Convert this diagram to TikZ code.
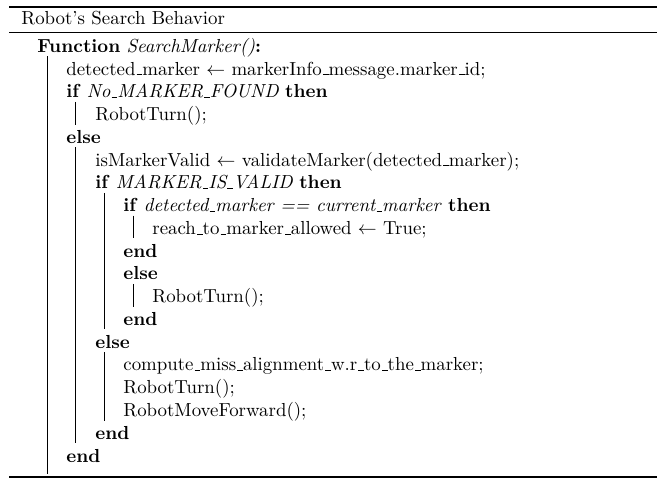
\documentclass[tikz,border=0pt]{standalone}
\usetikzlibrary{positioning}
\newcommand\usc{\leavevmode\kern.06em\vbox{\hrule width.3em}}
\begin{document}
\begin{tikzpicture}[x=0.53pt,y=-0.53pt]
\tikzstyle{codeline}=[anchor=base west,inner sep=0pt]
\tikzstyle{rule}=[line width=0.8pt]
\tikzstyle{bar}=[line width=0.5pt]
\useasboundingbox (0,0) rectangle (666,483);
\draw [rule] (9,7) -- (657,7);
\draw [rule] (9,32.5) -- (657,32.5);
\draw [rule] (9,477) -- (657,477);
\node [codeline] at (21,25) (cap) {Robot's Search Behavior};
\node [codeline] at (37,52.5) (l0) {\textbf{Function} \textit{SearchMarker()}\textbf{:}};
\node [codeline] at (66,75.25) (l1) {detected\usc marker $\leftarrow$ markerInfo\usc message.marker\usc id;};
\node [codeline] at (66,98) (l2) {\textbf{if} \textit{No\usc MARKER\usc FOUND} \textbf{then}};
\node [codeline] at (95,120.75) (l3) {RobotTurn();};
\node [codeline] at (66,143.5) (l4) {\textbf{else}};
\node [codeline] at (95,166.25) (l5) {isMarkerValid $\leftarrow$ validateMarker(detected\usc marker);};
\node [codeline] at (95,189) (l6) {\textbf{if} \textit{MARKER\usc IS\usc VALID} \textbf{then}};
\node [codeline] at (123,211.75) (l7) {\textbf{if} \textit{detected\usc marker == current\usc marker} \textbf{then}};
\node [codeline] at (152,234.5) (l8) {reach\usc to\usc marker\usc allowed $\leftarrow$ True;};
\node [codeline] at (123,257.25) (l9) {\textbf{end}};
\node [codeline] at (123,280) (l10) {\textbf{else}};
\node [codeline] at (152,302.75) (l11) {RobotTurn();};
\node [codeline] at (123,325.5) (l12) {\textbf{end}};
\node [codeline] at (95,348.25) (l13) {\textbf{else}};
\node [codeline] at (123,371) (l14) {compute\usc miss\usc alignment\usc w.r\usc to\usc the\usc marker;};
\node [codeline] at (123,393.75) (l15) {RobotTurn();};
\node [codeline] at (123,416.5) (l16) {RobotMoveForward();};
\node [codeline] at (95,439.25) (l17) {\textbf{end}};
\node [codeline] at (66,462) (l18) {\textbf{end}};
% block bars
\draw [bar] (47,56.5) -- (47,474);
\draw [bar] (75.5,102) -- (75.5,124.75);
\draw [bar] (75.5,147.5) -- (75.5,443.25);
\draw [bar] (104,193) -- (104,329.5);
\draw [bar] (133,215.75) -- (133,238.5);
\draw [bar] (133,284) -- (133,306.75);
\draw [bar] (104,352.25) -- (104,420.5);
\end{tikzpicture}
\end{document}
